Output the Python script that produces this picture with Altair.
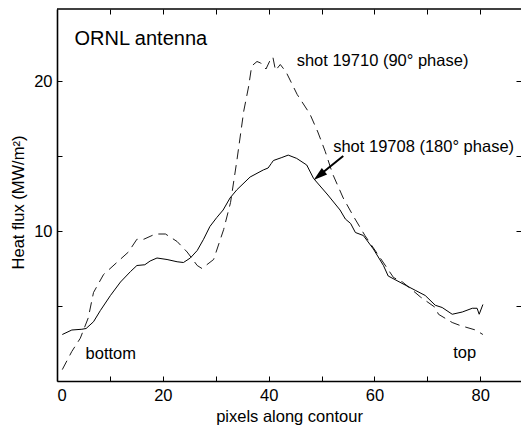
import math
import altair as alt
import pandas as pd

# shot 19708 (180 deg phase) - solid
x_180 = [1.0, 2.8, 4.7, 5.5, 6.9, 8.2, 10.1, 12.0, 13.9, 15.1, 16.6, 17.6, 18.9, 20.8, 22.7, 23.9,
         25.2, 26.5, 27.7, 28.9, 30.2, 31.4, 32.7, 34.0, 36.5, 39.0, 39.9, 40.5, 40.9, 42.5, 43.7,
         45.3, 47.2, 48.5, 51.2, 53.5, 54.5, 55.5, 56.4, 57.9, 59.8, 61.7, 62.6, 65.8, 67.7, 69.6,
         71.5, 72.8, 74.7, 76.6, 78.5, 79.4, 79.8, 80.5]
y_180 = [3.1, 3.4, 3.45, 3.5, 3.95, 4.7, 5.7, 6.6, 7.3, 7.7, 7.75, 8.0, 8.2, 8.1, 7.95, 7.9,
         8.2, 8.7, 9.45, 10.3, 10.9, 11.4, 12.2, 12.75, 13.6, 14.07, 14.2, 14.5, 14.7, 14.9, 15.06,
         14.84, 14.4, 13.5, 12.4, 11.4, 10.8, 10.5, 9.9, 9.7, 8.8, 7.7, 7.0, 6.4, 6.05, 5.7,
         5.05, 4.9, 4.45, 4.6, 4.85, 4.85, 4.45, 5.1]

# shot 19710 (90 deg phase) - dashed
x_90 = [1.0, 2.8, 4.4, 5.9, 6.9, 8.8, 11.3, 13.5, 15.1, 16.4, 18.6, 20.5, 22.7, 24.6, 26.5, 27.4,
        29.6, 31.5, 32.8, 34.0, 35.3, 36.2, 36.8, 37.8, 38.5, 39.5, 40.3, 40.8, 41.3, 42.2, 43.3,
        45.4, 47.8, 49.3, 50.7, 52.1, 54.1, 56.0, 58.2, 61.1, 63.6, 65.3, 67.2, 68.7, 71.5, 72.1,
        74.7, 76.2, 79.1, 80.5]
y_90 = [0.76, 1.97, 2.85, 4.2, 5.9, 7.1, 7.9, 8.6, 9.45, 9.45, 9.8, 9.8, 9.3, 8.6, 7.7, 7.5,
        8.1, 10.1, 11.9, 14.7, 18.0, 19.6, 21.0, 21.3, 21.2, 20.8, 21.4, 21.6, 20.7, 21.1, 20.6,
        19.1, 17.8, 16.6, 15.3, 13.8, 12.2, 11.0, 9.7, 8.2, 6.9, 6.6, 6.05, 5.6, 4.9, 4.45,
        3.9, 3.7, 3.4, 3.1]

label_text = ["shot 19710 (90° phase)", "shot 19708 (180° phase)", "bottom", "top"]
label_x = [45.3, 52.2, 5.4, 74.9]
label_y = [21.0, 15.3, 1.5, 1.55]

title_text = ["ORNL antenna"]
title_x = [3.3]
title_y = [22.4]

arrow_tail = [54.1, 15.0]
arrow_tip = [48.5, 13.4]

x_ticks = [0, 10, 20, 30, 40, 50, 60, 70, 80]
y_ticks = [5, 10, 15, 20]

W, H = 464, 372
XMAX, YMAX = 87.7, 24.8
FONT = "Liberation Sans"

xscale = alt.Scale(domain=[0, XMAX], nice=False, zero=False)
yscale = alt.Scale(domain=[0, YMAX], nice=False, zero=False)

xaxis = alt.Axis(values=x_ticks, labelExpr="datum.value % 20 == 0 ? datum.label : ''",
                 ticks=False, tickSize=0, grid=True, gridColor="black", gridOpacity=1,
                 gridWidth=1, gridDash=[5, H - 10, 5, 3000], domain=True, domainColor="black",
                 domainWidth=1.6, labelFont=FONT, labelFontSize=16.5, labelColor="black",
                 labelPadding=6, title="pixels along contour", titleFont=FONT,
                 titleFontSize=16.5, titleFontWeight="normal", titleColor="black",
                 titleBaseline="alphabetic", titleY=40)
yaxis = alt.Axis(values=y_ticks, labelExpr="datum.value % 10 == 0 ? datum.label : ''",
                 ticks=False, tickSize=0, grid=True, gridColor="black", gridOpacity=1,
                 gridWidth=1, gridDash=[5, W - 10, 5, 3000], domain=True, domainColor="black",
                 domainWidth=1.6, labelFont=FONT, labelFontSize=16.5, labelColor="black",
                 labelPadding=5, title="Heat flux (MW/m²)", titleFont=FONT,
                 titleFontSize=16.5, titleFontWeight="normal", titleColor="black", titlePadding=7,
                 titleY=H / 2 + 7)

X = alt.X("x:Q", scale=xscale, axis=xaxis)
Y = alt.Y("y:Q", scale=yscale, axis=yaxis)

solid_df = pd.DataFrame({"x": x_180, "y": y_180, "i": list(range(len(x_180)))})
dash_df = pd.DataFrame({"x": x_90, "y": y_90, "i": list(range(len(x_90)))})

solid = alt.Chart(solid_df).mark_line(color="black", strokeWidth=1.0).encode(x=X, y=Y, order="i:Q")
dashed = alt.Chart(dash_df).mark_line(color="black", strokeWidth=0.9, strokeDash=[10, 6]).encode(
    x=X, y=Y, order="i:Q")

labels = alt.Chart(pd.DataFrame({"x": label_x, "y": label_y, "t": label_text})).mark_text(
    align="left", baseline="alphabetic", font=FONT, fontSize=16.5, color="black").encode(
    x=X, y=Y, text="t:N")
title = alt.Chart(pd.DataFrame({"x": title_x, "y": title_y, "t": title_text})).mark_text(
    align="left", baseline="alphabetic", font=FONT, fontSize=20, color="black").encode(
    x=X, y=Y, text="t:N")

# arrow geometry (in pixel space for direction)
kx, ky = W / XMAX, H / YMAX
dxp = (arrow_tip[0] - arrow_tail[0]) * kx
dyp = -(arrow_tip[1] - arrow_tail[1]) * ky
L = math.hypot(dxp, dyp)
ux, uy = dxp / L, dyp / L
angle = math.degrees(math.atan2(dxp, -dyp)) % 360
end_x = arrow_tip[0] - 7 * ux / kx
end_y = arrow_tip[1] + 7 * uy / ky

shaft = alt.Chart(pd.DataFrame({"x": [arrow_tail[0]], "y": [arrow_tail[1]],
                                "x2": [end_x], "y2": [end_y]})).mark_rule(
    color="black", strokeWidth=2).encode(x=X, y=Y, x2="x2:Q", y2="y2:Q")
head = alt.Chart(pd.DataFrame({"x": [arrow_tip[0]], "y": [arrow_tip[1]]})).mark_point(
    shape="M0,0L0.6,2L-0.6,2Z", filled=True, size=196, angle=angle, color="black",
    opacity=1, strokeWidth=0).encode(x=X, y=Y)

top_line = alt.Chart(pd.DataFrame({"a": [0]})).mark_rule(color="black", strokeWidth=1.6).encode(
    x=alt.value(0), x2=alt.value(W), y=alt.value(0))

chart = alt.layer(dashed, solid, labels, title, shaft, head, top_line).properties(
    width=W, height=H,
    padding={"left": 49, "top": 1, "right": 0, "bottom": 44},
    autosize="none",
    background="white",
).configure_view(stroke=None)

chart.save("out.html", embed_options={"renderer": "svg", "actions": False})
